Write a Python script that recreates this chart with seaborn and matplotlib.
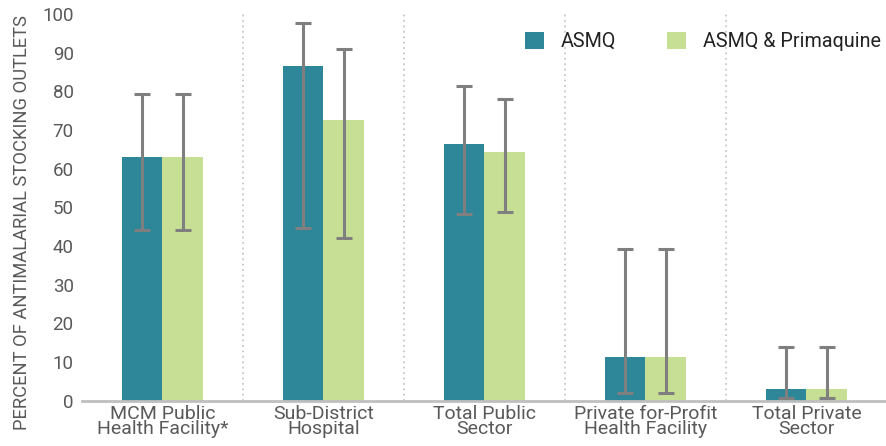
import pandas as pd
import matplotlib.pyplot as plt
import seaborn as sns
import numpy as np

categories = ['MCM Public\nHealth Facility*', 'Sub-District\nHospital', 'Total Public\nSector',
              'Private for-Profit\nHealth Facility', 'Total Private\nSector']
series = ['ASMQ', 'ASMQ & Primaquine']
asmq = [63.0, 86.5, 66.5, 11.3, 3.0]
asmq_lo = [44.1, 44.7, 48.2, 2.1, 0.8]
asmq_hi = [79.2, 97.8, 81.3, 39.3, 13.8]
prim = [63.0, 72.7, 64.4, 11.3, 3.0]
prim_lo = [44.1, 42.0, 48.9, 2.1, 0.8]
prim_hi = [79.2, 90.9, 77.9, 39.3, 13.8]

colors = ['#2E8799', '#C7DF94']
txt = '#595959'

df = pd.DataFrame({
    'cat': categories * 2,
    'series': [series[0]] * 5 + [series[1]] * 5,
    'val': asmq + prim,
    'lo': asmq_lo + prim_lo,
    'hi': asmq_hi + prim_hi,
})

sns.set_style('white')
plt.rcParams['font.family'] = ['Roboto', 'DejaVu Sans']

fig = plt.figure(figsize=(8.87, 4.46), dpi=100)
ax = fig.add_axes([0.0924, 0.1016, 0.9076, 0.867])
sns.barplot(data=df, x='cat', y='val', hue='series', palette=colors, width=0.5,
            errorbar=None, saturation=1, linewidth=0, ax=ax, legend=True)

# error bars at the bar centres
for cont, s in zip(ax.containers, series):
    sub = df[df['series'] == s]
    xs = [p.get_x() + p.get_width() / 2 for p in cont.patches]
    v = sub['val'].values
    ax.errorbar(xs, v, yerr=[v - sub['lo'].values, sub['hi'].values - v], fmt='none',
                ecolor='#7F7F7F', elinewidth=2.2, capsize=5.8, capthick=2.2, zorder=3)

for xv in [0.5, 1.5, 2.5, 3.5]:
    ax.axvline(xv, color='#C8C8C8', ls=(0, (1, 2)), lw=1.3, zorder=0)

ax.set_xlim(-0.5, 4.5)
ax.set_ylim(0, 100)
ax.set_yticks(range(0, 101, 10))
ax.set_xlabel('')
ax.set_ylabel('')
for s in ['top', 'right', 'left']:
    ax.spines[s].set_visible(False)
ax.spines['bottom'].set_color('#BFBFBF')
ax.spines['bottom'].set_linewidth(2)
ax.tick_params(axis='y', length=0, labelsize=13.5, labelcolor=txt, pad=6)
ax.tick_params(axis='x', length=0, labelsize=14, labelcolor=txt, pad=3)
for t in ax.get_xticklabels():
    t.set_linespacing(0.8)

fig.text(0.025, 0.5, 'PERCENT OF ANTIMALARIAL STOCKING OUTLETS', rotation=90,
         ha='center', va='center', fontsize=13.2, color=txt)

leg = ax.legend(loc='upper right', bbox_to_anchor=(1.002, 0.975), ncol=2, frameon=False,
                fontsize=14.2, handlelength=0.95, handleheight=0.95, columnspacing=2.6,
                handletextpad=0.85, borderaxespad=0)
for t in leg.get_texts():
    t.set_color('#222222')

fig.savefig('out.png', dpi=100)
